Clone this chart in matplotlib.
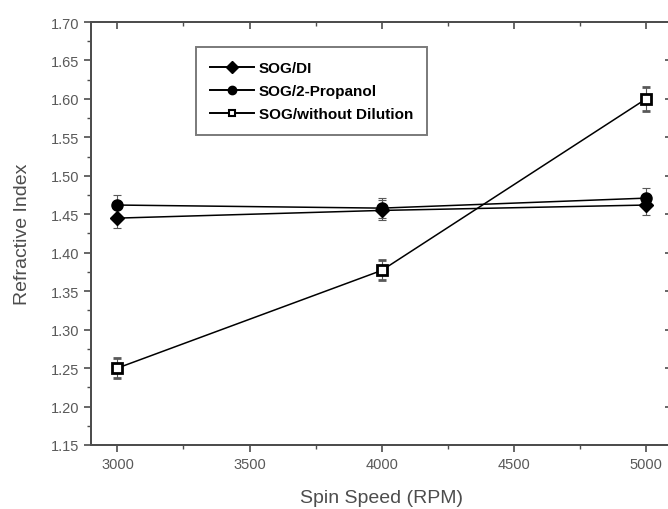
import numpy as np
import matplotlib
matplotlib.use('Agg')
import matplotlib.pyplot as plt
from matplotlib.ticker import MultipleLocator, FormatStrFormatter
from matplotlib.lines import Line2D

plt.rcParams['font.family'] = ['Liberation Sans', 'DejaVu Sans']

rpm = [3000, 4000, 5000]
ri_di = [1.445, 1.455, 1.462]
err_di = [0.013, 0.013, 0.013]
ri_prop = [1.462, 1.458, 1.471]
err_prop = [0.013, 0.013, 0.013]
ri_none = [1.250, 1.377, 1.600]
err_none = [0.013, 0.013, 0.016]
labels = ['SOG/DI', 'SOG/2-Propanol', 'SOG/without Dilution']

fig = plt.figure(figsize=(6.68, 5.10), dpi=100)
ax = fig.add_axes([0.1362, 0.1255, 0.8705, 0.8294])

kw = dict(color='black', lw=1.1, elinewidth=0.8, capsize=3, capthick=0.8, ecolor='0.35')
ax.errorbar(rpm, ri_di, yerr=err_di, marker='D', ms=7, mfc='black', mec='black', **kw)
ax.errorbar(rpm, ri_prop, yerr=err_prop, marker='o', ms=8, mfc='black', mec='black', **kw)
ax.errorbar(rpm, ri_none, yerr=err_none, marker='s', ms=7, mfc='white', mec='black', mew=2, **kw)

ax.set_xlim(2900, 5100)
ax.set_ylim(1.15, 1.70)


def ticks(a, direction):
    a.xaxis.set_major_locator(MultipleLocator(500))
    a.xaxis.set_minor_locator(MultipleLocator(250))
    a.yaxis.set_major_locator(MultipleLocator(0.05))
    a.yaxis.set_minor_locator(MultipleLocator(0.025))
    a.tick_params(which='both', direction=direction, colors='0.3')
    a.tick_params(which='major', length=5, width=1.2)
    a.tick_params(which='minor', length=3, width=1.0)
    for s in a.spines.values():
        s.set_linewidth(1.4)
        s.set_color('0.3')


ticks(ax, 'out')
ax.tick_params(labelsize=10.5, labelcolor='0.35')
ax.yaxis.set_major_formatter(FormatStrFormatter('%.2f'))

# inward ticks on top and right
axt = ax.twiny()
axt.set_xlim(ax.get_xlim())
ticks(axt, 'in')
axt.tick_params(labeltop=False)
axr = ax.twinx()
axr.set_ylim(ax.get_ylim())
ticks(axr, 'in')
axr.tick_params(labelright=False)

ax.set_xlabel('Spin Speed (RPM)', fontsize=14, color='0.3', labelpad=13)
ax.set_ylabel('Refractive Index', fontsize=14, color='0.3', labelpad=14)

handles = [Line2D([], [], color='black', lw=1.4, marker='D', ms=6, mfc='black'),
           Line2D([], [], color='black', lw=1.4, marker='o', ms=6, mfc='black'),
           Line2D([], [], color='black', lw=1.4, marker='s', ms=5, mfc='white', mew=1.5)]
leg = axr.legend(handles, labels, loc='upper left', bbox_to_anchor=(0.181, 0.94), frameon=True,
                 fancybox=False, edgecolor='0.35', prop={'weight': 'bold', 'size': 11},
                 handlelength=2.9, handletextpad=0.3, labelspacing=0.6, borderpad=0.9,
                 borderaxespad=0)
leg.get_frame().set_linewidth(1.4)

fig.savefig('out.png', dpi=100)
